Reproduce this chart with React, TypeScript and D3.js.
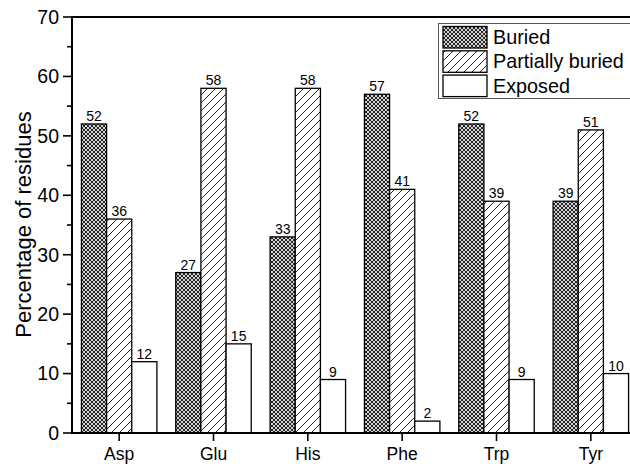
import React from "react";
import * as d3 from "d3";

const categories = ["Asp", "Glu", "His", "Phe", "Trp", "Tyr"];
const seriesNames = ["Buried", "Partially buried", "Exposed"];
const buried = [52, 27, 33, 57, 52, 39];
const partiallyBuried = [36, 58, 58, 41, 39, 51];
const exposed = [12, 15, 9, 2, 9, 10];
const yTicks = [0, 10, 20, 30, 40, 50, 60, 70];
const yMinorTicks = [5, 15, 25, 35, 45, 55, 65];

const W = 630;
const H = 464;
const FONT = "'Liberation Sans', Arial, Helvetica, sans-serif";
const fills = ["url(#pBuried)", "url(#pHatch)", "#ffffff"];

export default function App() {
  const left = 72;
  const right = 638;
  const top = 17;
  const bottom = 433;
  const x = d3.scaleBand<string>().domain(categories).range([left, right]).paddingInner(0.2).paddingOuter(0.1);
  const xs = d3.scaleBand<string>().domain(seriesNames).range([0, x.bandwidth()]);
  const y = d3.scaleLinear().domain([0, 70]).range([bottom, top]);
  const series = [buried, partiallyBuried, exposed];

  return (
    <svg width={W} height={H} style={{ position: "absolute", left: 0, top: 0, display: "block", background: "#fff" }} fontFamily={FONT}>
      <defs>
        <pattern id="pBuried" patternUnits="userSpaceOnUse" width={4} height={4}>
          <rect width={4} height={4} fill="#222" />
          <circle cx={0} cy={0} r={1.1} fill="#fff" />
          <circle cx={4} cy={0} r={1.1} fill="#fff" />
          <circle cx={0} cy={4} r={1.1} fill="#fff" />
          <circle cx={4} cy={4} r={1.1} fill="#fff" />
          <circle cx={2} cy={2} r={1.1} fill="#fff" />
        </pattern>
        <pattern id="pHatch" patternUnits="userSpaceOnUse" width={8} height={8}>
          <rect width={8} height={8} fill="#fff" />
          <path d="M-2,2 L2,-2 M0,8 L8,0 M6,10 L10,6" stroke="#222" strokeWidth={1} />
        </pattern>
      </defs>

      {/* bars */}
      {categories.map((c, i) => (
        <g key={c}>
          {series.map((s, k) => {
            const bx = (x(c) as number) + (xs(seriesNames[k]) as number);
            const bw = xs.bandwidth();
            const v = s[i];
            return (
              <g key={k}>
                <rect x={bx} y={y(v)} width={bw} height={y(0) - y(v)} fill={fills[k]} stroke="#000" strokeWidth={1.3} />
                <text x={bx + bw / 2} y={y(v) - 3} textAnchor="middle" fontSize={14} fill="#000">{v}</text>
              </g>
            );
          })}
        </g>
      ))}

      {/* axes */}
      <line x1={left} x2={right} y1={top} y2={top} stroke="#000" strokeWidth={2} />
      <line x1={left} x2={left} y1={top - 1} y2={bottom + 1} stroke="#000" strokeWidth={2} />
      <line x1={left - 1} x2={right} y1={bottom} y2={bottom} stroke="#000" strokeWidth={2} />

      {yTicks.map((t) => (
        <g key={t}>
          <line x1={left - 9} x2={left} y1={y(t)} y2={y(t)} stroke="#000" strokeWidth={1.6} />
          <text x={left - 13} y={y(t)} dy="0.35em" textAnchor="end" fontSize={19.5} fill="#000">{t}</text>
        </g>
      ))}
      {yMinorTicks.map((t) => (
        <line key={t} x1={left - 5} x2={left} y1={y(t)} y2={y(t)} stroke="#000" strokeWidth={1.6} />
      ))}

      {categories.map((c) => {
        const cx = (x(c) as number) + x.bandwidth() / 2;
        return (
          <g key={c}>
            <line x1={cx} x2={cx} y1={bottom} y2={bottom + 8} stroke="#000" strokeWidth={1.6} />
            <text x={cx} y={460} textAnchor="middle" fontSize={17.5} fill="#000">{c}</text>
          </g>
        );
      })}

      <text transform={`translate(31,224.5) rotate(-90)`} textAnchor="middle" fontSize={22} fill="#000">
        Percentage of residues
      </text>

      {/* legend */}
      <rect x={438.5} y={23.5} width={210} height={75} fill="#fff" stroke="#555" strokeWidth={1} />
      {seriesNames.map((n, k) => (
        <g key={n}>
          <rect x={443} y={26.5 + k * 24.3} width={44} height={21.5} fill={fills[k]} stroke="#000" strokeWidth={1.3} />
          <text x={493} y={44 + k * 24.3} fontSize={19.8} fill="#000">{n}</text>
        </g>
      ))}
    </svg>
  );
}
